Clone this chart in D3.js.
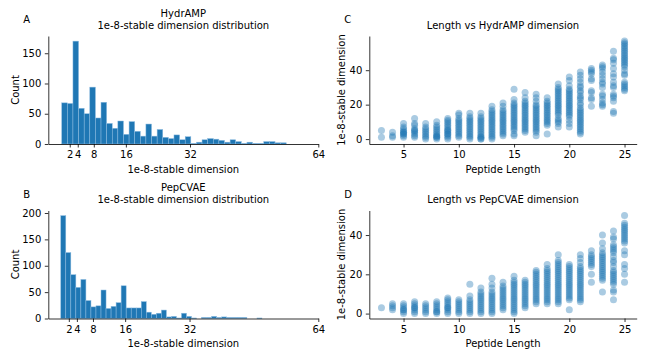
<!DOCTYPE html>
<html>
<head>
<meta charset="utf-8">
<script src="https://cdn.jsdelivr.net/npm/d3@7"></script>
<style>
  body { margin: 0; background: #fff; }
  svg text { font-family: "DejaVu Sans", sans-serif; fill: #000; }
  .tick text { font-size: 10px; }
</style>
</head>
<body>
<div id="chart"></div>
<script>
// histogram counts (40 bins each)
const hydrampRange = [0, 56];
const hydrampCounts = [68, 67, 170, 59, 50, 94, 43, 69, 34, 26,
    38, 16, 37, 21, 13, 33, 13, 24, 11, 9,
    15, 7, 12, 1, 3, 7, 9, 8, 6, 3,
    7, 4, 1, 3, 1, 1, 4, 4, 2, 2];
const pepcvaeRange = [0, 50];
const pepcvaeCounts = [195, 125, 83, 59, 74, 34, 22, 24, 54, 19,
    23, 30, 62, 20, 20, 20, 32, 12, 8, 10,
    16, 3, 4, 1, 10, 4, 1, 0, 2, 2,
    4, 2, 3, 2, 2, 2, 2, 0, 0, 1];
const histTicks = [2, 4, 8, 16, 32, 64];

// peptide length -> stable dimensions seen in that column
const hydrampDims = [
    [3, [1, 5]],
    [4, [1, 2, 4]],
    [5, [1, 2, 3, 3, 4, 4, 5, 6, 7, 9]],
    [6, [1, 2, 3, 4, 5, 5, 6, 8, 9, 12]],
    [7, [0, 1, 2, 3, 4, 5, 6, 7, 9]],
    [8, [0, 1, 1, 2, 2, 3, 4, 5, 6, 7, 8, 10]],
    [9, [0, 1, 2, 3, 3, 4, 5, 5, 6, 7, 8, 9, 10, 11, 12]],
    [10, [1, 2, 3, 4, 5, 6, 7, 8, 9, 10, 11, 12, 14, 15]],
    [11, [0, 1, 2, 3, 4, 5, 6, 7, 8, 9, 10, 11, 12, 13, 15]],
    [12, [0, 0, 1, 1, 2, 3, 4, 5, 6, 7, 8, 9, 10, 11, 12, 13, 15]],
    [13, [0, 1, 2, 3, 4, 5, 6, 7, 8, 9, 10, 11, 12, 13, 14, 15, 16, 17, 19]],
    [14, [2, 3, 4, 5, 6, 7, 8, 9, 10, 11, 12, 13, 14, 15, 16, 17, 19, 21]],
    [15, [2, 3, 5, 6, 7, 8, 9, 10, 11, 12, 13, 14, 15, 16, 17, 18, 19, 20, 21, 23, 29]],
    [16, [4, 5, 6, 7, 8, 9, 10, 11, 12, 13, 14, 15, 16, 17, 18, 19, 20, 21, 22, 24, 27]],
    [17, [2, 4, 5, 6, 7, 8, 9, 10, 11, 12, 13, 14, 15, 16, 17, 18, 19, 20, 22, 24, 26]],
    [18, [3, 8, 9, 10, 11, 12, 13, 14, 15, 16, 17, 18, 19, 20, 21, 22, 24]],
    [19, [7, 9, 10, 11, 12, 14, 15, 16, 17, 18, 19, 20, 21, 22, 23, 24, 25, 26, 27, 28, 29, 30, 32]],
    [20, [7, 9, 11, 13, 14, 15, 16, 17, 18, 19, 20, 21, 22, 23, 24, 25, 26, 27, 28, 29, 31, 34, 36]],
    [21, [3, 4, 5, 6, 7, 8, 9, 10, 11, 12, 13, 14, 15, 16, 17, 18, 20, 21, 23, 24, 25, 27, 28, 30, 31, 33, 35, 37, 39]],
    [22, [19, 23, 24, 27, 28, 34, 35, 38, 39, 40, 41]],
    [23, [19, 20, 21, 23, 25, 26, 30, 32, 33, 35, 37, 39, 41, 42, 43]],
    [24, [15, 16, 22, 24, 25, 26, 30, 31, 33, 36, 38, 41, 44, 46, 47, 51]],
    [25, [28, 29, 30, 31, 32, 33, 37, 38, 40, 42, 43, 44, 45, 46, 47, 48, 49, 50, 51, 52, 53, 54, 55, 56, 57]]
];
const pepcvaeDims = [
    [3, [3]],
    [4, [2, 3, 4, 5]],
    [5, [0, 1, 2, 2, 3, 4, 5]],
    [6, [0, 1, 2, 3, 3, 4, 5, 6]],
    [7, [0, 1, 2, 3, 4, 5]],
    [8, [0, 1, 1, 2, 3, 4, 5, 6]],
    [9, [0, 1, 2, 3, 3, 4, 5, 6, 7, 8]],
    [10, [0, 1, 2, 3, 4, 5, 6, 7]],
    [11, [0, 1, 2, 3, 4, 5, 6, 7, 9, 15]],
    [12, [0, 1, 2, 3, 4, 5, 6, 7, 8, 9, 10, 11, 13]],
    [13, [0, 1, 2, 3, 4, 5, 6, 7, 8, 9, 10, 11, 13, 15, 18]],
    [14, [2, 3, 4, 5, 6, 7, 8, 9, 10, 11, 12, 13, 14, 16]],
    [15, [0, 1, 2, 3, 4, 5, 6, 7, 8, 9, 10, 11, 12, 13, 14, 15, 16, 17, 19]],
    [16, [3, 4, 5, 6, 7, 8, 9, 10, 11, 12, 13, 14, 15, 16, 17]],
    [17, [5, 6, 7, 8, 9, 10, 11, 12, 13, 14, 15, 16, 17, 18, 19, 20, 21, 22]],
    [18, [5, 6, 7, 8, 9, 10, 11, 12, 13, 14, 15, 16, 17, 18, 19, 20, 21, 22, 23, 25]],
    [19, [5, 6, 7, 8, 9, 10, 11, 12, 13, 14, 15, 16, 17, 18, 19, 20, 21, 22, 23, 24, 25, 26, 27, 30]],
    [20, [2, 7, 8, 9, 10, 11, 12, 13, 14, 15, 16, 17, 18, 19, 20, 21, 22, 23, 24, 25]],
    [21, [6, 7, 8, 9, 10, 11, 12, 13, 14, 15, 16, 17, 18, 19, 20, 21, 22, 23, 24, 26, 28, 30]],
    [22, [16, 20, 24, 25, 26, 27, 28, 29, 30, 32]],
    [23, [11, 17, 18, 19, 20, 21, 22, 23, 24, 25, 26, 27, 28, 29, 30, 31, 33, 36, 40]],
    [24, [7, 11, 12, 15, 16, 17, 18, 19, 20, 21, 22, 24, 26, 27, 29, 31, 32, 33, 34, 35, 38, 39, 42]],
    [25, [16, 20, 23, 25, 30, 32, 36, 37, 38, 39, 40, 41, 42, 43, 44, 45, 46, 50]]
];
const scatterXTicks = [5, 10, 15, 20, 25];
const scatterYTicks = [0, 20, 40];

const blue = "#1f77b4";
const svg = d3.select("#chart")
    .append("svg")
    .attr("width", 648)
    .attr("height", 360);

// axes boxes
const leftCol = [48.3, 318.3], rightCol = [369.3, 636.7];
const rowOffset = 174.5;
const rowTop = 36, rowBottom = 144;

function panelFrame(g, x, y, xTicks, yTicks) {
    const xa = g.append("g")
        .attr("transform", `translate(0, ${y.range()[0]})`)
        .call(d3.axisBottom(x).tickValues(xTicks).tickSizeInner(3.5).tickSizeOuter(0).tickPadding(3.5));
    const ya = g.append("g")
        .attr("transform", `translate(${x.range()[0]}, 0)`)
        .call(d3.axisLeft(y).tickValues(yTicks).tickSizeInner(3.5).tickSizeOuter(0).tickPadding(3.5));
    [xa, ya].forEach(a => {
        a.select(".domain").attr("stroke", "#000").attr("stroke-width", 0.8);
        a.selectAll(".tick line").attr("stroke", "#000").attr("stroke-width", 0.8);
        a.selectAll(".tick text").attr("fill", "#000");
    });
}

function labels(g, x, y, letter, titleLines, xLabel, yLabel, yLabelX) {
    const cx = (x.range()[0] + x.range()[1]) / 2;
    const top = y.range()[1], bottom = y.range()[0];
    g.append("text")
        .attr("x", x.range()[0] - 25)
        .attr("y", top - 12.7)
        .style("font-size", "10px")
        .text(letter);
    titleLines.forEach((t, i) => {
        g.append("text")
            .attr("x", cx)
            .attr("y", top - 7.5 - (titleLines.length - 1 - i) * 11.7)
            .attr("text-anchor", "middle")
            .style("font-size", "10px")
            .text(t);
    });
    g.append("text")
        .attr("x", cx)
        .attr("y", bottom + 28.5)
        .attr("text-anchor", "middle")
        .style("font-size", "10px")
        .text(xLabel);
    g.append("text")
        .attr("transform", `translate(${yLabelX}, ${(top + bottom) / 2}) rotate(-90)`)
        .attr("text-anchor", "middle")
        .style("font-size", "10px")
        .text(yLabel);
}

function histPanel(row, counts, range, xmin, name, letter) {
    const g = svg.append("g");
    const top = rowTop + row * rowOffset, bottom = rowBottom + row * rowOffset;
    const x = d3.scaleLinear().domain([xmin, 64]).range(leftCol);
    const y = d3.scaleLinear().domain([0, d3.max(counts) * 1.05]).range([bottom, top]);
    const w = (range[1] - range[0]) / counts.length;
    g.selectAll("rect")
        .data(counts)
        .join("rect")
        .attr("x", (d, i) => x(range[0] + i * w))
        .attr("width", x(w) - x(0))
        .attr("y", d => y(d))
        .attr("height", d => y(0) - y(d))
        .attr("fill", blue)
        .attr("stroke", "#8dbbe0")
        .attr("stroke-width", 0.5);
    panelFrame(g, x, y, histTicks, y.ticks(5).filter(t => t % 50 === 0));
    labels(g, x, y, letter, [name, "1e-8-stable dimension distribution"],
        "1e-8-stable dimension", "Count", leftCol[0] - 29.8);
}

function scatterPanel(row, dims, name, letter) {
    const g = svg.append("g");
    const top = rowTop + row * rowOffset, bottom = rowBottom + row * rowOffset;
    const pts = dims.flatMap(([len, vals]) => vals.map(v => ({ len: len, dim: v })));
    const ymax = d3.max(pts, d => d.dim);
    const x = d3.scaleLinear().domain([1.9, 26.1]).range(rightCol);
    const y = d3.scaleLinear().domain([-0.05 * ymax, 1.05 * ymax]).range([bottom, top]);
    g.selectAll("circle")
        .data(pts)
        .join("circle")
        .attr("cx", d => x(d.len))
        .attr("cy", d => y(d.dim))
        .attr("r", 3.5)
        .attr("fill", blue)
        .attr("fill-opacity", 0.38);
    panelFrame(g, x, y, scatterXTicks, scatterYTicks);
    labels(g, x, y, letter, [`Length vs ${name} dimension`],
        "Peptide Length", "1e-8-stable dimension", rightCol[0] - 24.3);
}

histPanel(0, hydrampCounts, hydrampRange, -3.35, "HydrAMP", "A");
histPanel(1, pepcvaeCounts, pepcvaeRange, -3.1, "PepCVAE", "B");
scatterPanel(0, hydrampDims, "HydrAMP", "C");
scatterPanel(1, pepcvaeDims, "PepCVAE", "D");
</script>
</body>
</html>
